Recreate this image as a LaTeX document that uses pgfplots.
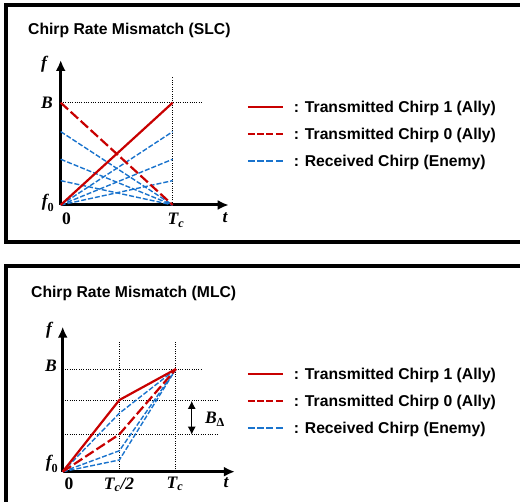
\documentclass[border=0pt]{standalone}
\usepackage[no-math]{fontspec}
\usepackage{amsmath}
\usepackage{pgfplots}
\pgfplotsset{compat=1.18}
\usetikzlibrary{arrows.meta}
\setmainfont{Liberation Sans}
\newfontfamily\lblfont{Liberation Serif}
\newcommand\ttl{\fontsize{15.7}{18}\selectfont\bfseries}
\newcommand\mlab{\fontsize{17.5}{20}\selectfont\lblfont\bfseries\itshape}
% bold italic symbol with a subscript
\newcommand\sym[2]{$\text{#1}_{\text{#2}}$}
\definecolor{allyred}{RGB}{200,0,0}
\definecolor{enemyblue}{RGB}{25,115,205}

\pgfplotsset{
  chirp/.style={
    scale only axis, clip=false,
    xmin=0, ymin=0,
    axis lines=left,
    every outer x axis line/.append style={line width=3pt, -{Latex[length=11pt,width=10pt]}},
    every outer y axis line/.append style={line width=3pt, -{Latex[length=11pt,width=10pt]}},
    xtick=\empty, ytick=\empty,
    legend cell align=left,
    legend style={draw=none, fill=none, inner sep=0pt, outer sep=0pt,
      font=\ttl, row sep=11pt, column sep=10pt,
      nodes={inner sep=0pt, text height=12pt, text depth=4pt}},
    legend image code/.code={\draw[##1] (0pt,1.6pt) -- (35pt,1.6pt);},
  },
  tx1/.style={allyred, line width=2.2pt},
  tx0/.style={allyred, line width=2.2pt, dash pattern=on 10pt off 3.5pt},
  rx/.style={enemyblue, line width=1.4pt, dash pattern=on 5pt off 2pt},
  guide/.style={black, line width=1pt, dash pattern=on 1pt off 1.3pt},
}

\begin{document}
\begin{tikzpicture}[x=1pt,y=1pt]
\useasboundingbox (0,0) rectangle (520,-502);
% panel frames
\draw[line width=4pt] (6,-5) rectangle (540,-242.5);
\draw[line width=4pt] (6,-266.5) rectangle (540,-530);
\node[anchor=base west, inner sep=0pt, font=\ttl] at (28,-35) {Chirp Rate Mismatch (SLC)};
\node[anchor=base west, inner sep=0pt, font=\ttl] at (31,-298) {Chirp Rate Mismatch (MLC)};

% single linear chirp
\begin{axis}[chirp, at={(60.7pt,-205pt)}, anchor=south west,
  width=168pt, height=145pt, xmax=1.5, ymax=1.417,
  legend style={at={(axis description cs:1.107,0.477)}, anchor=west}]
\addlegendimage{tx1}
\addlegendentry{: Transmitted Chirp 1 (Ally)}
\addlegendimage{tx0, dash pattern=on 7pt off 2.33pt}
\addlegendentry{: Transmitted Chirp 0 (Ally)}
\addlegendimage{rx, line width=1.8pt, dash pattern=on 7pt off 2.33pt}
\addlegendentry{: Received Chirp (Enemy)}
\addplot[guide, forget plot] coordinates {(0,1) (1.268,1)};
\addplot[guide, forget plot] coordinates {(1,0) (1,1.254)};
\addplot[rx, forget plot] coordinates {(0,0) (1,0.717)};
\addplot[rx, forget plot] coordinates {(0,0) (1,0.447)};
\addplot[rx, forget plot] coordinates {(0,0) (1,0.238)};
\addplot[rx, forget plot] coordinates {(0,0.717) (1,0)};
\addplot[rx, forget plot] coordinates {(0,0.447) (1,0)};
\addplot[rx, forget plot] coordinates {(0,0.238) (1,0)};
\addplot[tx0, forget plot] coordinates {(0,1) (1,0)};
\addplot[tx1, forget plot] coordinates {(0,0) (1,1)};
\node[font=\mlab] at (axis cs:-0.149,1.378) {f};
\node[font=\mlab] at (axis cs:-0.122,0.997) {B};
\node[font=\mlab] at (axis cs:-0.113,0.02) {\sym{f}{\upshape 0}};
\node[font=\mlab] at (axis cs:0.052,-0.132) {\upshape 0};
\node[font=\mlab] at (axis cs:1.029,-0.147) {\sym{T}{c}};
\node[font=\mlab] at (axis cs:1.467,-0.127) {t};
\end{axis}

% multi-segment chirp
\begin{axis}[chirp, at={(62.7pt,-471.7pt)}, anchor=south west,
  width=172.2pt, height=145pt, xmax=1.52, ymax=1.412,
  legend style={at={(axis description cs:1.0685,0.4766)}, anchor=west}]
\addlegendimage{tx1}
\addlegendentry{: Transmitted Chirp 1 (Ally)}
\addlegendimage{tx0, dash pattern=on 7pt off 2.33pt}
\addlegendentry{: Transmitted Chirp 0 (Ally)}
\addlegendimage{rx, line width=1.8pt, dash pattern=on 7pt off 2.33pt}
\addlegendentry{: Received Chirp (Enemy)}
\addplot[guide, forget plot] coordinates {(0,1) (1.227,1)};
\addplot[guide, forget plot] coordinates {(0,0.698) (1.368,0.698)};
\addplot[guide, forget plot] coordinates {(0,0.364) (1.368,0.364)};
\addplot[guide, forget plot] coordinates {(0.5,0) (0.5,1.266)};
\addplot[guide, forget plot] coordinates {(1,0) (1,1.266)};
\addplot[rx, forget plot] coordinates {(0,0) (0.5,0.569) (1,1)};
\addplot[rx, forget plot] coordinates {(0,0) (0.5,0.204) (1,1)};
\addplot[rx, forget plot] coordinates {(0,0) (0.5,0.114) (1,1)};
\addplot[tx0, forget plot] coordinates {(0,0) (0.5,0.364) (1,1)};
\addplot[tx1, forget plot] coordinates {(0,0) (0.5,0.698) (1,1)};
\draw[line width=1.2pt, {Latex[length=8pt,width=8pt]}-{Latex[length=8pt,width=8pt]}]
  (axis cs:1.139,0.69) -- (axis cs:1.139,0.36);
\node[font=\mlab] at (axis cs:1.344,0.513) {\sym{B}{\upshape Δ}};
\node[font=\mlab] at (axis cs:-0.121,1.380) {f};
\node[font=\mlab] at (axis cs:-0.103,1.029) {B};
\node[font=\mlab] at (axis cs:-0.094,0.075) {\sym{f}{\upshape 0}};
\node[font=\mlab] at (axis cs:0.056,-0.120) {\upshape 0};
\node[font=\mlab] at (axis cs:0.497,-0.129) {\sym{T}{c}/2};
\node[font=\mlab] at (axis cs:0.991,-0.120) {\sym{T}{c}};
\node[font=\mlab] at (axis cs:1.441,-0.110) {t};
\end{axis}
\end{tikzpicture}
\end{document}
